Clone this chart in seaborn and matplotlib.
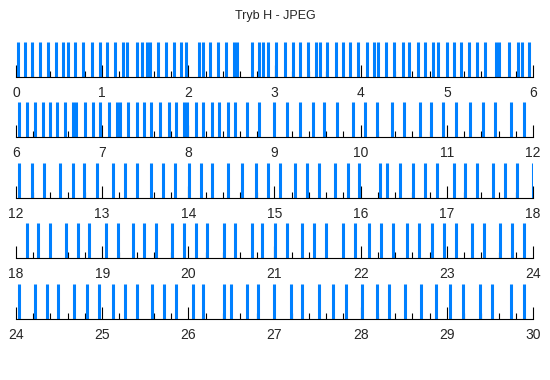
import matplotlib
matplotlib.use('Agg')
import matplotlib.pyplot as plt
from matplotlib.ticker import MultipleLocator
import pandas as pd
import seaborn as sns

sns.set_style('white')
plt.rcParams['font.family'] = ['Liberation Sans', 'DejaVu Sans']

# shot times (s), one list per 6-second row
shots_0_6 = [0.02, 0.10, 0.19, 0.28, 0.37, 0.46, 0.55, 0.60, 0.68, 0.78, 0.88, 0.97,
             1.06, 1.15, 1.24, 1.29, 1.41, 1.46, 1.52, 1.56, 1.65, 1.74, 1.83, 1.92, 1.97,
             2.12, 2.17, 2.25, 2.35, 2.44, 2.53, 2.57, 2.74, 2.82, 2.87, 2.93,
             3.02, 3.12, 3.22, 3.30, 3.39, 3.48, 3.53, 3.61, 3.71, 3.79, 3.88, 3.97,
             4.07, 4.15, 4.20, 4.29, 4.39, 4.49, 4.56, 4.66, 4.75, 4.84, 4.90,
             5.00, 5.08, 5.17, 5.26, 5.35, 5.44, 5.57, 5.60, 5.72, 5.83, 5.87, 5.95]
shots_6_12 = [6.04, 6.13, 6.22, 6.31, 6.39, 6.48, 6.57, 6.66, 6.70, 6.80, 6.89, 6.97,
              7.08, 7.17, 7.21, 7.30, 7.40, 7.49, 7.57, 7.67, 7.77, 7.86, 7.95, 7.99,
              8.09, 8.17, 8.27, 8.36, 8.46, 8.54, 8.68, 8.82, 8.99,
              9.14, 9.30, 9.45, 9.58, 9.73, 9.91, 10.05, 10.19, 10.36, 10.50, 10.69,
              10.82, 10.96, 11.11, 11.27, 11.42, 11.56, 11.74, 11.89]
shots_12_18 = [12.03, 12.19, 12.33, 12.51, 12.66, 12.79, 12.94, 13.12, 13.26, 13.40,
               13.57, 13.71, 13.85, 14.01, 14.15, 14.28, 14.46, 14.62, 14.79, 14.93,
               15.06, 15.24, 15.38, 15.52, 15.70, 15.85, 15.98, 16.22, 16.31, 16.46,
               16.61, 16.75, 16.89, 17.08, 17.21, 17.35, 17.54, 17.67, 17.81, 18.00]
shots_18_24 = [18.13, 18.26, 18.39, 18.58, 18.72, 18.85, 19.04, 19.18, 19.36, 19.49,
               19.62, 19.81, 19.95, 20.09, 20.22, 20.41, 20.54, 20.74, 20.86, 21.01,
               21.15, 21.32, 21.46, 21.60, 21.79, 21.93, 22.10, 22.24, 22.38, 22.54,
               22.68, 22.83, 22.97, 23.11, 23.29, 23.43, 23.62, 23.76, 23.90]
shots_24_30 = [24.04, 24.22, 24.36, 24.49, 24.67, 24.82, 24.96, 25.13, 25.27, 25.41,
               25.58, 25.72, 25.86, 26.05, 26.17, 26.41, 26.50, 26.68, 26.81, 26.99,
               27.19, 27.32, 27.52, 27.68, 27.83, 28.02, 28.19, 28.33, 28.52, 28.70,
               28.87, 29.04, 29.19, 29.38, 29.52, 29.75, 29.89]

row_starts = [0, 6, 12, 18, 24]
rows = [shots_0_6, shots_6_12, shots_12_18, shots_18_24, shots_24_30]
title = 'Tryb H - JPEG'

df = pd.concat([pd.DataFrame({'time': r, 'row': i}) for i, r in enumerate(rows)],
               ignore_index=True)

W, H = 550, 380
axis_y = [77, 137, 198, 258, 319]   # pixel row of each baseline
bar_h = 35

fig = plt.figure(figsize=(W / 100, H / 100), dpi=100)
fig.text(0.5, 1 - 16 / H, title, ha='center', va='center', fontsize=9)

for i, start in enumerate(row_starts):
    ax = fig.add_axes([16 / W, (H - axis_y[i]) / H, 517 / W, bar_h / H])
    sns.rugplot(data=df[df['row'] == i], x='time', ax=ax, height=1,
                color='#0080ff', linewidth=2.2, expand_margins=False)
    ax.set_xlim(start, start + 6)
    ax.set_ylim(0, 1)
    ax.set_axisbelow(True)
    ax.set_xticks(range(start, start + 7))
    ax.xaxis.set_minor_locator(MultipleLocator(0.2))
    ax.set_yticks([])
    ax.set_xlabel('')
    ax.tick_params(axis='x', which='both', direction='in', bottom=True,
                   color='black', width=0.8, labelsize=10, pad=6.8)
    ax.tick_params(axis='x', which='major', length=8.6)
    ax.tick_params(axis='x', which='minor', length=4.3)
    for s in ['top', 'left', 'right']:
        ax.spines[s].set_visible(False)
    ax.spines['bottom'].set_color('black')
    ax.spines['bottom'].set_linewidth(0.8)
    ax.patch.set_alpha(0)

fig.savefig('out.png', dpi=100, facecolor='white')
